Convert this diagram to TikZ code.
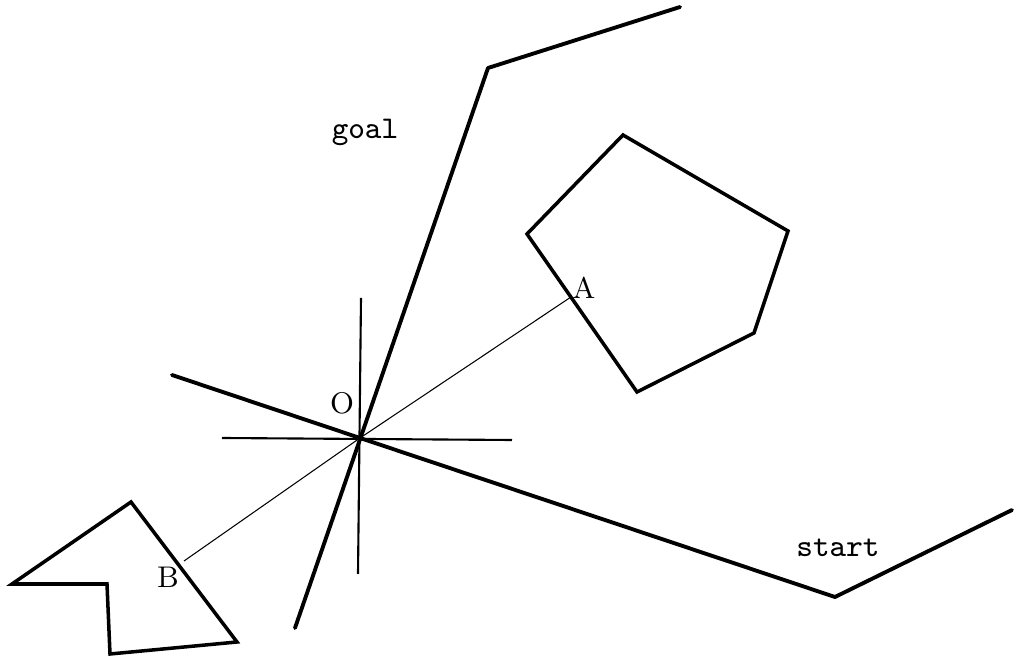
\documentclass[tikz,border=0pt]{standalone}
\usepackage{tikz}
\usetikzlibrary{positioning}

\begin{document}
\begin{tikzpicture}[
				x=0.01cm, y=-0.01cm,
				path/.style={line width=1.1pt, line join=round, line cap=round},
				obst/.style={line width=1pt, line join=miter},
				axis/.style={line width=0.6pt},
				ray/.style={line width=0.3pt},
				word/.style={font=\fontsize{9}{10}\selectfont\ttfamily},
				pt/.style={font=\fontsize{8.5}{10}\selectfont, inner sep=1pt}]
				\useasboundingbox (0,0) rectangle (1014,661);
				% points
				\coordinate (O) at (360,438);
				\coordinate (A) at (571,297);
				\coordinate (B) at (184,561);
				\coordinate (g1) at (295,628);
				\coordinate (g2) at (488,68);
				\coordinate (g3) at (680,7);
				\coordinate (s1) at (172,375);
				\coordinate (s2) at (835,597);
				\coordinate (s3) at (1012,510);
				% cross at O
				\draw[axis] (361,298) -- (358,574);
				\draw[axis] (222,438) -- (512,440);
				% rays to the obstacles
				\draw[ray] (O) -- (A);
				\draw[ray] (O) -- (B);
				% paths
				\draw[path] (g1) -- (g2) -- (g3);
				\draw[path] (s1) -- (O) -- (s2) -- (s3);
				% obstacles
				\draw[obst] (527,234) -- (623,135) -- (788,231) -- (754,333) -- (637,392) -- cycle;
				\draw[obst] (12,584) -- (131,502) -- (237,642) -- (110,654) -- (107,584) -- cycle;
				% labels
				\node[word] (goal) at (365,132) {goal};
				\node[word] (start) at (838,548) {start};
				\node[pt] (lO) at (342,403) {O};
				\node[pt] (lA) at (584,288) {A};
				\node[pt] (lB) at (168,577) {B};
			\end{tikzpicture}
\end{document}
